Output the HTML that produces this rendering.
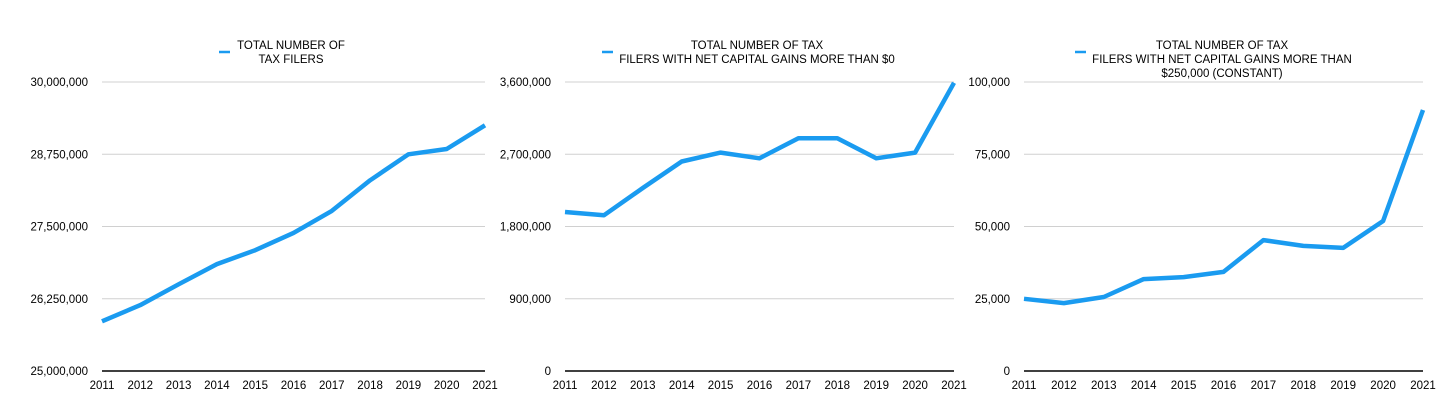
<!DOCTYPE html>
<html><head><meta charset="utf-8">
<style>
html,body{margin:0;padding:0;background:#fff;}
svg{display:block;font-family:"Liberation Sans",Arial,sans-serif;}
</style></head>
<body>
<svg id="chart" width="1456" height="410" viewBox="0 0 1456 410" xmlns="http://www.w3.org/2000/svg"></svg>
<script>
const years = ["2011","2012","2013","2014","2015","2016","2017","2018","2019","2020","2021"];
const filersTotal = [25860000,26140000,26500000,26850000,27090000,27390000,27770000,28300000,28750000,28840000,29250000];
const filersGainsAbove0 = [1980000,1940000,2280000,2610000,2720000,2650000,2900000,2900000,2650000,2720000,3590000];
const filersGainsAbove250k = [25000,23500,25600,31800,32500,34300,45300,43300,42600,51900,90300];
const ticks1 = [25000000,26250000,27500000,28750000,30000000];
const ticks2 = [0,900000,1800000,2700000,3600000];
const ticks3 = [0,25000,50000,75000,100000];
const legend1 = ["TOTAL NUMBER OF","TAX FILERS"];
const legend2 = ["TOTAL NUMBER OF TAX","FILERS WITH NET CAPITAL GAINS MORE THAN $0"];
const legend3 = ["TOTAL NUMBER OF TAX","FILERS WITH NET CAPITAL GAINS MORE THAN","$250,000 (CONSTANT)"];

const NS="http://www.w3.org/2000/svg";
const svg=document.getElementById('chart');
function mk(tag,attrs,parent){const e=document.createElementNS(NS,tag);for(const k in attrs)e.setAttribute(k,attrs[k]);(parent||svg).appendChild(e);return e;}
const fmt=v=>v.toLocaleString('en-US');

function drawPanel(name,x0,x1,values,ticks,legend,legendX,legendLineX){
  const g=mk('g',{});
  
  
  const yTop=82,yBot=371;
  const vmin=ticks[0],vmax=ticks[ticks.length-1];
  const yScale=v=>yBot-(v-vmin)/(vmax-vmin)*(yBot-yTop);
  const xScale=i=>x0+i*(x1-x0)/(years.length-1);
  ticks.forEach((t,i)=>{
    const y=yScale(t);
    if(i>0){
      const gl=mk('line',{x1:x0,x2:x1,y1:y,y2:y,stroke:'#d0d0d0','stroke-width':1},g);
      
      
    }
    const tl=mk('text',{x:x0-14,y:y+4,'text-anchor':'end','font-size':11.5,fill:'#000'},g);
    tl.textContent=fmt(t);
    
    
  });
  const ax=mk('line',{x1:x0,x2:x1,y1:yBot,y2:yBot,stroke:'#000','stroke-width':1.5},g);
  
  
  years.forEach((yr,i)=>{
    const t=mk('text',{x:xScale(i),y:389,'text-anchor':'middle','font-size':11.5,fill:'#000'},g);
    t.textContent=yr;
    
    
  });
  const pts=values.map((v,i)=>xScale(i).toFixed(1)+','+yScale(v).toFixed(1)).join(' ');
  const line=mk('polyline',{points:pts,fill:'none',stroke:'#1a9bf0','stroke-width':4.5,'stroke-linejoin':'round','stroke-linecap':'butt'},g);
  
  
  const lg=mk('line',{x1:legendLineX,x2:legendLineX+11,y1:52,y2:52,stroke:'#1a9bf0','stroke-width':2.5},g);
  
  
  legend.forEach((s,i)=>{
    const t=mk('text',{x:legendX,y:49+i*14,'text-anchor':'middle','font-size':11.5,fill:'#000'},g);
    t.textContent=s;
    
    
  });
}
drawPanel('chart-total-filers',102,485,filersTotal,ticks1,legend1,291,219);
drawPanel('chart-gains-above-0',565,954,filersGainsAbove0,ticks2,legend2,757,602);
drawPanel('chart-gains-above-250k',1024,1423,filersGainsAbove250k,ticks3,legend3,1222,1075);
</script>
</body></html>
